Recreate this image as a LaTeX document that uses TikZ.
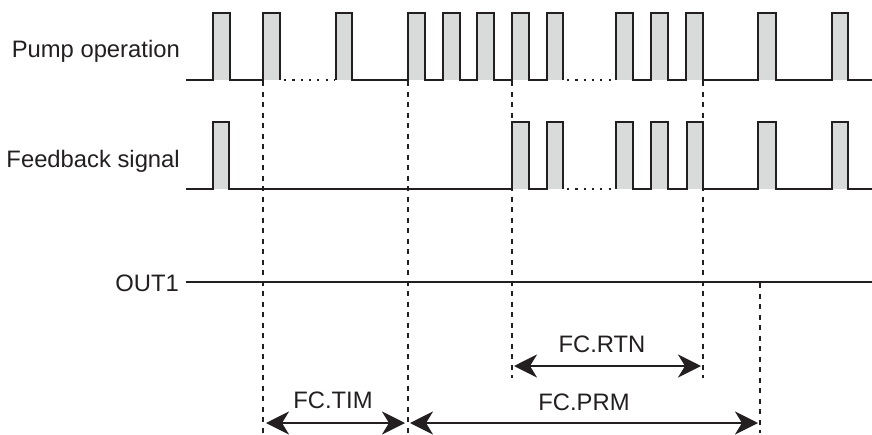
\documentclass[tikz,border=0pt]{standalone}
\usepackage{fontspec}
\setmainfont{Liberation Sans}
\usetikzlibrary{arrows.meta}
\definecolor{ink}{RGB}{35,31,32}
\definecolor{pulsegray}{RGB}{217,218,218}
\tikzset{
  wave/.style={draw=ink, line width=2.6pt, line join=miter},
  dots/.style={draw=ink, line width=2.4pt, dash pattern=on 2.2pt off 6.1pt},
  guide/.style={draw=ink, line width=2.3pt, dash pattern=on 5pt off 5.5pt},
  dimarrow/.style={draw=ink, line width=2.6pt, {Stealth[length=23pt,width=23pt,inset=7pt]}-{Stealth[length=23pt,width=23pt,inset=7pt]}},
  lbl/.style={text=ink, font=\fontsize{23.8}{28}\selectfont, inner sep=0pt},
}
\begin{document}
\begin{tikzpicture}[x=1pt,y=-1pt]
\useasboundingbox (0,0) rectangle (872,434);
% ---------- Pump operation ----------
\foreach \a/\b in {213/230,263/280,336/352,408/425,443/460,477/494,512/529,547/563,616/633,651/668,686/703,758/776,832/848}
  \fill[pulsegray] (\a,13) rectangle (\b,80);
\draw[wave] (186,80) \foreach \a/\b in {213/230,263/280} { -- (\a,80) -- (\a,13) -- (\b,13) -- (\b,80) };
\draw[dots] (284,80) -- (334,80);
\draw[wave] (336,80) \foreach \a/\b in {336/352,408/425,443/460,477/494,512/529,547/563} { -- (\a,80) -- (\a,13) -- (\b,13) -- (\b,80) };
\draw[dots] (567,80) -- (614,80);
\draw[wave] (616,80) \foreach \a/\b in {616/633,651/668,686/703,758/776,832/848} { -- (\a,80) -- (\a,13) -- (\b,13) -- (\b,80) } -- (872,80);
% ---------- Feedback signal ----------
\foreach \a/\b in {213/229,512/529,547/563,616/633,651/668,687/703,758/776,832/848}
  \fill[pulsegray] (\a,122) rectangle (\b,189);
\draw[wave] (186,189) \foreach \a/\b in {213/229,512/529,547/563} { -- (\a,189) -- (\a,122) -- (\b,122) -- (\b,189) };
\draw[dots] (567,189) -- (614,189);
\draw[wave] (616,189) \foreach \a/\b in {616/633,651/668,687/703,758/776,832/848} { -- (\a,189) -- (\a,122) -- (\b,122) -- (\b,189) } -- (872,189);
% ---------- OUT1 ----------
\coordinate (o1) at (186,282);
\coordinate (o2) at (872,282);
\draw[wave] (o1) -- (o2);
% ---------- labels ----------
\node[lbl, anchor=base east] (lp) at (180,57) {Pump operation};
\node[lbl, anchor=base east] (lf) at (180,167) {Feedback signal};
\node[lbl, anchor=base east] (lo) at (179,291) {OUT1};
% ---------- guide lines ----------
\coordinate (g1t) at (263,81); \coordinate (g1b) at (263,433);
\coordinate (g2t) at (408,81); \coordinate (g2b) at (408,433);
\coordinate (g3t) at (512,81); \coordinate (g3b) at (512,378);
\coordinate (g4t) at (703,81); \coordinate (g4b) at (703,378);
\coordinate (g5t) at (760,283); \coordinate (g5b) at (760,433);
\foreach \g in {g1,g2,g3,g4,g5} \draw[guide] (\g t) -- (\g b);
% ---------- dimension arrows ----------
\coordinate (rtnL) at (514,366); \coordinate (rtnR) at (701,366);
\coordinate (timL) at (266,423); \coordinate (timR) at (405,423);
\coordinate (prmL) at (410,423); \coordinate (prmR) at (758,423);
\draw[dimarrow] (rtnL) -- (rtnR);
\draw[dimarrow] (timL) -- (timR);
\draw[dimarrow] (prmL) -- (prmR);
\node[lbl, anchor=base] (trtn) at (602,352) {FC.RTN};
\node[lbl, anchor=base] (ttim) at (333,408) {FC.TIM};
\node[lbl, anchor=base] (tprm) at (584,410) {FC.PRM};
\end{tikzpicture}
\end{document}
